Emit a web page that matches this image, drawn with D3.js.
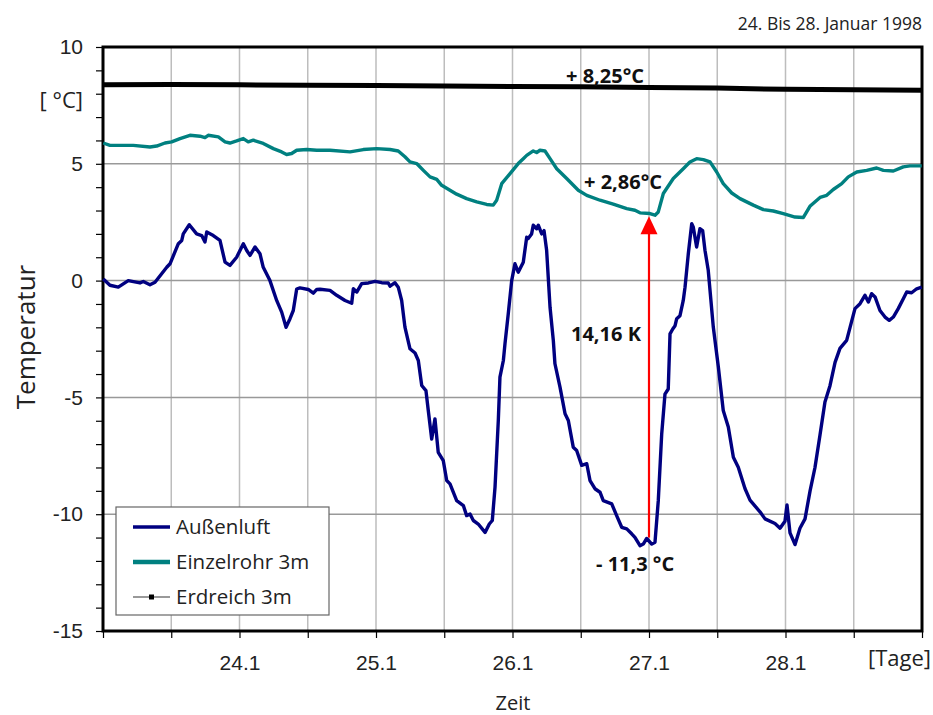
<!DOCTYPE html>
<html>
<head>
<meta charset="utf-8">
<script src="https://cdn.jsdelivr.net/npm/d3@7"></script>
<style>
  body { margin: 0; background: #fff; }
  svg { font-family: "Open Sans", sans-serif; }
</style>
</head>
<body>
<svg class="chart-svg" width="933" height="715"></svg>
<script>
// Außenluft (days, °C)
var luftTag = [23.002,23.051,23.112,23.185,23.271,23.295,23.344,23.381,23.467,23.491,23.552,23.577,23.588,23.632,23.686,23.723,23.747,23.760,23.808,23.857,23.894,23.930,23.979,24.028,24.053,24.077,24.114,24.150,24.174,24.223,24.273,24.309,24.341,24.370,24.394,24.419,24.443,24.504,24.541,24.566,24.590,24.663,24.712,24.773,24.822,24.834,24.859,24.895,24.944,24.993,25.042,25.090,25.103,25.139,25.163,25.188,25.212,25.249,25.286,25.310,25.335,25.366,25.383,25.408,25.432,25.456,25.493,25.518,25.542,25.591,25.640,25.664,25.689,25.713,25.749,25.799,25.830,25.852,25.872,25.896,25.908,25.933,25.945,25.969,25.994,26.018,26.042,26.079,26.104,26.115,26.140,26.152,26.177,26.189,26.214,26.231,26.250,26.275,26.299,26.311,26.348,26.385,26.409,26.445,26.470,26.507,26.544,26.568,26.604,26.641,26.665,26.727,26.763,26.800,26.837,26.873,26.897,26.934,26.958,26.983,27.020,27.044,27.068,27.093,27.117,27.141,27.154,27.174,27.191,27.203,27.227,27.251,27.264,27.288,27.313,27.324,27.349,27.373,27.393,27.410,27.434,27.471,27.508,27.544,27.581,27.618,27.654,27.703,27.740,27.813,27.850,27.923,27.960,27.996,28.011,28.033,28.070,28.106,28.143,28.180,28.216,28.253,28.289,28.326,28.363,28.399,28.448,28.473,28.509,28.546,28.582,28.607,28.631,28.656,28.692,28.729,28.760,28.790,28.826,28.863,28.888,28.924,28.961,28.998];
var luftWert = [0.07,-0.2,-0.28,0.0,-0.1,-0.04,-0.18,-0.07,0.57,0.72,1.58,1.72,2.0,2.39,2.0,1.93,1.65,2.08,1.93,1.72,0.79,0.65,1.0,1.58,1.29,1.08,1.44,1.15,0.57,0.0,-0.86,-1.35,-2.0,-1.63,-1.28,-0.36,-0.31,-0.38,-0.54,-0.38,-0.37,-0.42,-0.63,-0.85,-0.97,-0.35,-0.49,-0.13,-0.1,-0.03,-0.09,-0.1,-0.24,-0.09,-0.28,-0.85,-1.99,-2.92,-3.1,-3.42,-4.49,-4.71,-5.56,-6.78,-5.92,-7.35,-7.71,-8.56,-8.7,-9.42,-9.63,-10.06,-9.99,-10.27,-10.42,-10.78,-10.42,-10.27,-8.84,-5.99,-4.13,-3.42,-2.7,-1.42,0.0,0.72,0.36,0.79,1.86,1.8,2.0,2.37,2.22,2.37,2.0,2.14,1.3,-1.14,-2.56,-3.56,-4.56,-5.7,-5.99,-7.13,-7.27,-7.91,-7.84,-8.56,-8.91,-9.06,-9.42,-9.56,-10.06,-10.56,-10.63,-10.84,-10.99,-11.35,-11.28,-11.04,-11.28,-11.2,-9.42,-6.57,-4.86,-4.64,-2.28,-2.07,-1.93,-1.63,-1.5,-0.85,-0.28,1.15,2.44,2.3,1.44,2.22,2.14,1.3,0.44,-1.99,-3.7,-5.56,-6.27,-7.56,-7.99,-8.9,-9.4,-9.9,-10.2,-10.4,-10.6,-10.3,-9.6,-10.8,-11.3,-10.6,-10.2,-9.0,-8.0,-6.6,-5.2,-4.5,-3.5,-2.9,-2.56,-2.0,-1.2,-0.99,-0.63,-0.92,-0.56,-0.7,-1.28,-1.56,-1.7,-1.56,-1.2,-0.78,-0.49,-0.52,-0.35,-0.28];

// Einzelrohr 3m (days, °C)
var rohrTag = [23.002,23.051,23.222,23.344,23.393,23.454,23.503,23.564,23.637,23.711,23.747,23.771,23.845,23.894,23.930,23.979,24.028,24.064,24.101,24.174,24.248,24.309,24.345,24.382,24.419,24.492,24.566,24.663,24.810,24.907,25.005,25.103,25.163,25.212,25.249,25.298,25.347,25.396,25.445,25.481,25.542,25.591,25.664,25.738,25.811,25.859,25.884,25.921,25.982,26.042,26.079,26.104,26.152,26.177,26.201,26.238,26.275,26.324,26.397,26.482,26.544,26.641,26.738,26.837,26.897,26.934,27.007,27.044,27.068,27.105,27.178,27.251,27.300,27.349,27.398,27.447,27.496,27.544,27.606,27.667,27.764,27.838,27.911,27.984,28.070,28.130,28.179,28.253,28.302,28.350,28.412,28.460,28.522,28.595,28.668,28.717,28.790,28.863,28.912,28.998];
var rohrWert = [5.89,5.79,5.79,5.72,5.76,5.89,5.94,6.08,6.22,6.18,6.12,6.22,6.15,5.94,5.89,5.98,6.08,5.94,6.01,5.87,5.65,5.51,5.4,5.44,5.58,5.61,5.58,5.58,5.51,5.61,5.65,5.61,5.55,5.3,5.08,5.01,4.72,4.44,4.33,4.08,3.87,3.7,3.51,3.37,3.26,3.23,3.44,4.15,4.58,5.01,5.22,5.36,5.55,5.48,5.58,5.55,5.22,4.79,4.37,3.87,3.65,3.44,3.27,3.08,3.01,2.9,2.87,2.8,2.94,3.73,4.37,4.79,5.08,5.22,5.18,5.08,4.65,4.15,3.75,3.51,3.23,3.04,2.98,2.87,2.72,2.7,3.18,3.56,3.65,3.9,4.15,4.44,4.65,4.72,4.82,4.72,4.69,4.87,4.91,4.91];

// Erdreich 3m (days, °C)
var erdTag = [23.0,23.5,24.0,24.5,25.0,25.5,26.0,26.5,27.0,27.5,28.0,28.5,29.0];
var erdWert = [8.38,8.39,8.38,8.36,8.35,8.33,8.31,8.3,8.27,8.24,8.19,8.17,8.15];

// Tick labels
var tagTicks = [24, 25, 26, 27, 28];
var tempTicks = [-15, -10, -5, 0, 5, 10];

// Annotations
var pfeilTag = 27.0, pfeilVon = -11.0, pfeilBis = 2.75;

var svg = d3.select(".chart-svg"),
    margin = {top: 47, right: 11, bottom: 84, left: 103},
    width = +svg.attr("width") - margin.left - margin.right,
    height = +svg.attr("height") - margin.top - margin.bottom;

var x = d3.scaleLinear().domain([23, 29]).range([0, width]),
    y = d3.scaleLinear().domain([-15, 10]).range([height, 0]);

var g = svg.append("g")
    .attr("transform", "translate(" + margin.left + "," + margin.top + ")");

// Vertical grid (every 12 h)
g.selectAll(".vgrid")
    .data(d3.range(23.5, 29, 0.5))
    .enter().append("line")
    .attr("x1", function(d) { return x(d); })
    .attr("x2", function(d) { return x(d); })
    .attr("y1", 0).attr("y2", height)
    .attr("stroke", "#bdbdbd").attr("stroke-width", 1.5);

// Horizontal grid (every 5 °C)
g.selectAll(".hgrid")
    .data(tempTicks.slice(1, -1))
    .enter().append("line")
    .attr("x1", 0).attr("x2", width)
    .attr("y1", function(d) { return y(d); })
    .attr("y2", function(d) { return y(d); })
    .attr("stroke", "#999").attr("stroke-width", 1.5);

// X axis
var xAxis = g.append("g")
    .attr("transform", "translate(0," + height + ")")
    .call(d3.axisBottom(x)
        .tickValues(d3.range(23, 29.01, 0.5))
        .tickSize(7)
        .tickPadding(17)
        .tickFormat(function(d) { return tagTicks.indexOf(d) != -1 ? d + ".1" : ""; }));
xAxis.select(".domain").remove();
xAxis.selectAll(".tick line").attr("stroke", "#000").attr("stroke-width", 1.2);
xAxis.selectAll("text").attr("font-size", "21px").attr("fill", "#222");

// Y axis
var yAxis = g.append("g")
    .call(d3.axisLeft(y)
        .tickValues(d3.range(-15, 10.01, 1))
        .tickSize(7)
        .tickPadding(13)
        .tickFormat(function(d) { return tempTicks.indexOf(d) != -1 ? d : ""; }));
yAxis.select(".domain").remove();
yAxis.selectAll(".tick line").attr("stroke", "#000").attr("stroke-width", 1.2);
yAxis.selectAll("text").attr("font-size", "21px").attr("fill", "#222");

// Frame
g.append("rect")
    .attr("width", width).attr("height", height)
    .attr("fill", "none").attr("stroke", "#000").attr("stroke-width", 3);

var line = d3.line()
    .x(function(d) { return x(d[0]); })
    .y(function(d) { return y(d[1]); });

// Erdreich 3m
g.append("path")
    .datum(d3.zip(erdTag, erdWert))
    .attr("d", line)
    .attr("fill", "none").attr("stroke", "#000").attr("stroke-width", 5);

// Einzelrohr 3m
g.append("path")
    .datum(d3.zip(rohrTag, rohrWert))
    .attr("d", line)
    .attr("fill", "none").attr("stroke", "#008080").attr("stroke-width", 3.4)
    .attr("stroke-linejoin", "round");

// Außenluft
g.append("path")
    .datum(d3.zip(luftTag, luftWert))
    .attr("d", line)
    .attr("fill", "none").attr("stroke", "#000080").attr("stroke-width", 3.4)
    .attr("stroke-linejoin", "round");

// Red arrow
g.append("line")
    .attr("x1", x(pfeilTag)).attr("x2", x(pfeilTag))
    .attr("y1", y(pfeilVon)).attr("y2", y(pfeilBis) + 15)
    .attr("stroke", "#ff0000").attr("stroke-width", 2.2);
g.append("path")
    .attr("d", "M" + x(pfeilTag) + "," + y(pfeilBis) +
        "L" + (x(pfeilTag) - 8.5) + "," + (y(pfeilBis) + 18) +
        "L" + (x(pfeilTag) + 8.5) + "," + (y(pfeilBis) + 18) + "Z")
    .attr("fill", "#ff0000");

// Annotation texts
function note(tx, ty, s) {
    svg.append("text")
        .attr("x", tx).attr("y", ty)
        .attr("font-size", "20px").attr("font-weight", "bold").attr("fill", "#111")
        .text(s);
}
note(566, 83, "+ 8,25°C");
note(584, 189, "+ 2,86°C");
note(571, 341, "14,16 K");
note(596, 571, "- 11,3 °C");

// Legend
var legend = svg.append("g").attr("transform", "translate(116,507)");
legend.append("rect")
    .attr("width", 213).attr("height", 108)
    .attr("fill", "#fff").attr("stroke", "#666").attr("stroke-width", 1.2);
var items = [
    {name: "Außenluft", color: "#000080", w: 3.4},
    {name: "Einzelrohr 3m", color: "#008080", w: 4.5},
    {name: "Erdreich 3m", color: "#777", w: 1.3}
];
items.forEach(function(it, i) {
    var cy = 20 + i * 35;
    legend.append("line")
        .attr("x1", 17).attr("x2", 54).attr("y1", cy).attr("y2", cy)
        .attr("stroke", it.color).attr("stroke-width", it.w);
    if (i == 2) {
        legend.append("rect")
            .attr("x", 33).attr("y", cy - 2.5).attr("width", 5).attr("height", 5)
            .attr("fill", "#000");
    }
    legend.append("text")
        .attr("x", 60).attr("y", cy).attr("dy", "0.35em")
        .attr("font-size", "20.5px").attr("fill", "#222")
        .text(it.name);
});

// Titles and axis labels
svg.append("text")
    .attr("x", 922).attr("y", 30)
    .style("text-anchor", "end")
    .attr("font-size", "17.5px").attr("fill", "#222")
    .text("24. Bis 28. Januar 1998");

svg.append("text")
    .attr("x", 83).attr("y", 108)
    .style("text-anchor", "end")
    .attr("font-size", "22px").attr("fill", "#222")
    .text("[ °C]");

svg.append("text")
    .attr("transform", "translate(35,337) rotate(-90)")
    .style("text-anchor", "middle")
    .attr("font-size", "26px").attr("fill", "#222")
    .text("Temperatur");

svg.append("text")
    .attr("x", 931).attr("y", 666)
    .style("text-anchor", "end")
    .attr("font-size", "22px").attr("fill", "#222")
    .text("[Tage]");

svg.append("text")
    .attr("x", 513).attr("y", 710)
    .style("text-anchor", "middle")
    .attr("font-size", "20px").attr("fill", "#222")
    .text("Zeit");
</script>
</body>
</html>
